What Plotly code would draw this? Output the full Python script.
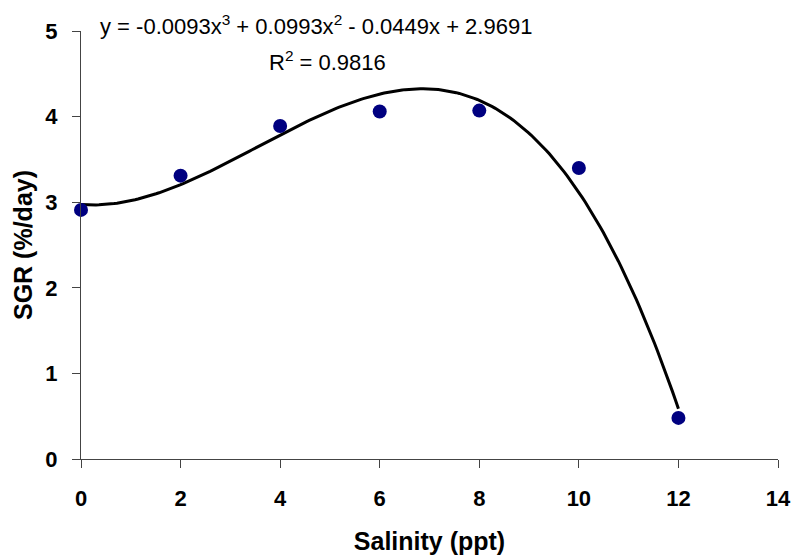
import numpy as np
import plotly.graph_objects as go

salinity = [0, 2, 4, 6, 8, 10, 12]
sgr = [2.91, 3.31, 3.89, 4.06, 4.07, 3.40, 0.48]
x_ticks = [0, 2, 4, 6, 8, 10, 12, 14]
y_ticks = [0, 1, 2, 3, 4, 5]
equation_text = "y = -0.0093x<sup>3</sup> + 0.0993x<sup>2</sup> - 0.0449x + 2.9691"
r2_text = "R<sup>2</sup> = 0.9816"

# third-order polynomial trendline fitted to the data (as in the original chart)
coeffs = np.polyfit(salinity, sgr, 3)
xs = np.linspace(min(salinity), max(salinity), 200)
ys = np.polyval(coeffs, xs)

FONT = "Liberation Sans, Arial, sans-serif"

fig = go.Figure()
fig.add_trace(go.Scatter(x=xs, y=ys, mode="lines",
                         line=dict(color="black", width=3), hoverinfo="skip"))
fig.add_trace(go.Scatter(x=salinity, y=sgr, mode="markers",
                         marker=dict(color="#000080", size=14), cliponaxis=False))

fig.update_layout(
    width=794, height=559,
    margin=dict(l=81, r=16, t=31, b=100, autoexpand=False),
    paper_bgcolor="white", plot_bgcolor="white",
    showlegend=False,
    font=dict(family=FONT, color="black"),
    xaxis=dict(range=[0, 14], tickvals=x_ticks, showgrid=False, zeroline=False,
               showline=True, linecolor="#444", linewidth=1, automargin=False,
               ticks="outside", ticklen=8, tickcolor="#444",
               tickfont=dict(size=22, family=FONT, weight="bold"),
               ticklabelstandoff=12,
               title=dict(text="<b>Salinity (ppt)</b>", font=dict(size=25, family=FONT),
                          standoff=22)),
    yaxis=dict(range=[0, 5], tickvals=y_ticks, showgrid=False, zeroline=False,
               showline=True, linecolor="#444", linewidth=1, automargin=False,
               ticks="outside", ticklen=8, tickcolor="#444",
               tickfont=dict(size=22, family=FONT, weight="bold"),
               ticklabelstandoff=10,
               title=dict(text="<b>SGR (%/day)</b>", font=dict(size=25, family=FONT),
                          standoff=5)),
    annotations=[
        dict(text=equation_text, xref="paper", yref="paper", x=0.0244, y=1.013,
             xanchor="left", yanchor="middle", showarrow=False,
             font=dict(size=22, family=FONT, color="black")),
        dict(text=r2_text, xref="paper", yref="paper", x=0.354, y=0.929,
             xanchor="center", yanchor="middle", showarrow=False,
             font=dict(size=22, family=FONT, color="black")),
    ],
)

fig.write_html("out.html", config={"displayModeBar": False},
               post_script="document.body.style.margin='0';document.body.style.overflow='hidden';")
